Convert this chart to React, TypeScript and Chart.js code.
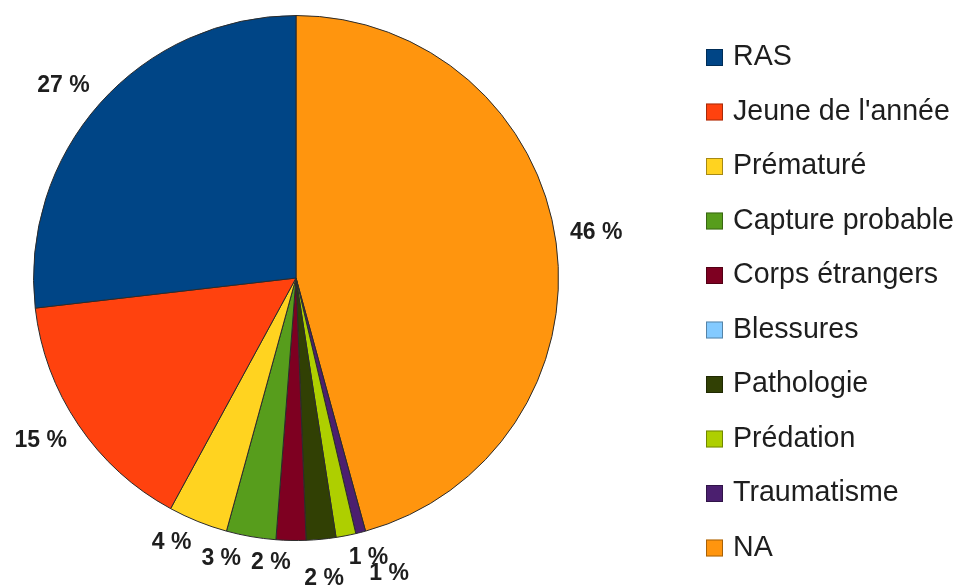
import React, { useEffect, useRef } from "react";
import { Chart, registerables } from "chart.js";

Chart.register(...registerables);

// Legend order (as in the reference)
const categories = [
  "RAS",
  "Jeune de l'année",
  "Prématuré",
  "Capture probable",
  "Corps étrangers",
  "Blessures",
  "Pathologie",
  "Prédation",
  "Traumatisme",
  "NA",
];
const counts = [44, 25, 6, 5, 3, 0, 3, 2, 1, 75];
const colors = [
  "#004586",
  "#ff420e",
  "#ffd320",
  "#579d1c",
  "#7e0021",
  "#83caff",
  "#314004",
  "#aecf00",
  "#4b1f6f",
  "#ff950e",
];

const FONT = '"Liberation Sans", Arial, sans-serif';

type Lbl = { text: string; x: number; y: number; w: number; h: number };

const pctLabelPlugin = {
  id: "pctLabels",
  afterDatasetsDraw(chart: any) {
    const ctx = chart.ctx as CanvasRenderingContext2D;
    const meta = chart.getDatasetMeta(0);
    const data = chart.data.datasets[0].data as number[];
    const total = data.reduce((a, b) => a + b, 0);
    ctx.save();
    ctx.font = `bold 23px ${FONT}`;
    ctx.fillStyle = "#1e1e1e";
    ctx.textAlign = "center";
    ctx.textBaseline = "middle";
    const h = 16;
    const gap = 14;
    const slideMargin = 10;
    const pushMargin = 15;
    const overlaps = (a: Lbl, b: Lbl, m: number) =>
      Math.abs(a.x - b.x) < (a.w + b.w) / 2 + m &&
      Math.abs(a.y - b.y) < (a.h + b.h) / 2;
    const placed: Lbl[] = [];
    for (let k = data.length - 1; k >= 0; k--) {
      const v = data[k];
      if (!v) continue;
      const arc = meta.data[k];
      const { x, y, startAngle, endAngle, outerRadius } = arc.getProps(
        ["x", "y", "startAngle", "endAngle", "outerRadius"],
        true
      );
      const mid = (startAngle + endAngle) / 2;
      const dx = Math.cos(mid);
      const dy = Math.sin(mid);
      const text = Math.round((v / total) * 100) + " %";
      const w = ctx.measureText(text).width;
      let deg = ((-mid * 180) / Math.PI) % 360;
      if (deg < 0) deg += 360;
      let ox = Math.sign(dx) * (w / 2);
      const oy = Math.sign(dy) * (h / 2);
      if (deg >= 270 && deg < 280) ox = 0; // straight below: centred
      if (deg > 85 && deg < 95) ox = 0; // straight above: centred
      const at = (t: number): Lbl => ({
        text,
        x: x + dx * (outerRadius + gap + t) + ox,
        y: y + dy * (outerRadius + gap + t) + oy,
        w,
        h,
      });
      let L = at(0);
      if (dx < 0) {
        // left side: slide earlier labels counter-clockwise (to the left)
        let changed = true;
        let guard = 0;
        while (changed && guard++ < 100) {
          changed = false;
          const all = [...placed, L];
          for (let i = placed.length - 1; i >= 0; i--) {
            const p = placed[i];
            for (const q of all) {
              if (q === p || q.x <= p.x) continue;
              if (overlaps(p, q, slideMargin)) {
                p.x = q.x - (p.w + q.w) / 2 - slideMargin;
                changed = true;
              }
            }
          }
        }
      } else {
        // right side: push outwards until free
        let t = 0;
        while (placed.some((p) => overlaps(p, L, pushMargin)) && t < 200) {
          t += 0.5;
          L = at(t);
        }
      }
      placed.push(L);
    }
    placed.forEach((l) => ctx.fillText(l.text, l.x, l.y));
    ctx.restore();
  },
};

const legendPlugin = {
  id: "sideLegend",
  afterDraw(chart: any) {
    const ctx = chart.ctx as CanvasRenderingContext2D;
    const left = 706;
    const top = 57.5;
    const step = 54.5;
    const box = 17;
    ctx.save();
    ctx.font = `28.6px ${FONT}`;
    ctx.textAlign = "left";
    ctx.textBaseline = "middle";
    categories.forEach((name, i) => {
      const cy = top + i * step;
      ctx.fillStyle = colors[i];
      ctx.fillRect(left, cy - box / 2, box, box);
      ctx.strokeStyle = "rgba(0,0,0,0.35)";
      ctx.lineWidth = 1;
      ctx.strokeRect(left + 0.5, cy - box / 2 + 0.5, box - 1, box - 1);
      ctx.fillStyle = "#1e1e1e";
      ctx.fillText(name, left + box + 10, cy);
    });
    ctx.restore();
  },
};

export default function App() {
  const ref = useRef<HTMLCanvasElement | null>(null);
  useEffect(() => {
    if (!ref.current) return;
    const labels = [...categories].reverse();
    const values = [...counts].reverse();
    const bg = [...colors].reverse();
    const chart = new Chart(ref.current, {
      type: "pie",
      data: {
        labels,
        datasets: [
          {
            data: values,
            backgroundColor: bg,
            borderColor: "#2b2b2b",
            borderWidth: 1,
          },
        ],
      },
      options: {
        animation: false,
        responsive: false,
        devicePixelRatio: 1,
        layout: { padding: { left: 33, top: 15, right: 398, bottom: 47 } },
        plugins: {
          legend: { display: false },
          tooltip: { enabled: false },
        },
      },
      plugins: [pctLabelPlugin, legendPlugin],
    });
    return () => chart.destroy();
  }, []);
  return (
    <div
      style={{
        position: "fixed",
        left: 0,
        top: 0,
        width: 957,
        height: 588,
        background: "#fff",
      }}
    >
      <canvas ref={ref} width={957} height={588} style={{ display: "block" }} />
    </div>
  );
}
